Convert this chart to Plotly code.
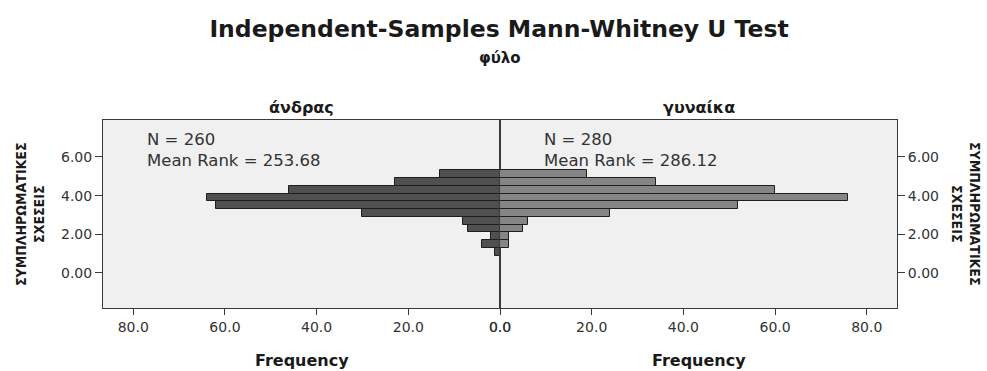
import plotly.graph_objects as go

# ---------------- data ----------------
bin_centers = [1.1, 1.5, 1.9, 2.3, 2.7, 3.1, 3.5, 3.9, 4.3, 4.7, 5.1]
male_freq = [1, 4, 2, 7, 8, 30, 62, 64, 46, 23, 13]      # άνδρας
female_freq = [0, 2, 2, 5, 6, 24, 52, 76, 60, 34, 19]    # γυναίκα
group_labels = ["άνδρας", "γυναίκα"]
group_n = [260, 280]
mean_ranks = [253.68, 286.12]
x_tickvals = [0, 20, 40, 60, 80]
x_ticktext = ["0.0", "20.0", "40.0", "60.0", "80.0"]
y_tickvals = [0, 2, 4, 6]
y_ticktext = ["0.00", "2.00", "4.00", "6.00"]
y_title = "ΣΥΜΠΛΗΡΩΜΑΤΙΚΕΣ<br>ΣΧΕΣΕΙΣ"

FONT = "DejaVu Sans, Liberation Sans, Arial, sans-serif"
NARROW = "Liberation Sans Narrow, DejaVu Sans Condensed, Arial Narrow, sans-serif"
LINE = "#3a3a3a"

fig = go.Figure()
fig.add_trace(go.Bar(
    y=bin_centers, x=male_freq, orientation="h", width=0.4,
    xaxis="x", yaxis="y",
    marker=dict(color="#505050", line=dict(color="#1e1e1e", width=1)),
    showlegend=False, hoverinfo="x+y"))
fig.add_trace(go.Bar(
    y=bin_centers, x=female_freq, orientation="h", width=0.4,
    xaxis="x2", yaxis="y2",
    marker=dict(color="#858585", line=dict(color="#1e1e1e", width=1)),
    showlegend=False, hoverinfo="x+y"))

xcommon = dict(tickvals=x_tickvals, ticktext=x_ticktext, ticks="outside",
               ticklen=6, tickcolor=LINE, showline=True, linecolor=LINE,
               linewidth=1, mirror=True, showgrid=False, zeroline=False,
               tickfont=dict(family=FONT, size=14, color="#333333"))
ycommon = dict(range=[-1.81, 7.91], tickvals=y_tickvals, ticktext=y_ticktext,
               ticks="outside", ticklen=7, tickcolor=LINE, showline=True,
               linecolor=LINE, linewidth=1, mirror=True, showgrid=False,
               zeroline=False,
               tickfont=dict(family=FONT, size=14, color="#333333"))

fig.update_layout(
    width=987, height=371,
    margin=dict(l=103, r=90, t=120, b=63),
    paper_bgcolor="white", plot_bgcolor="#f0f0f0",
    bargap=0,
    xaxis=dict(domain=[0, 0.5], range=[86.6, 0], anchor="y", **xcommon),
    xaxis2=dict(domain=[0.5, 1], range=[0, 86.6], anchor="y2", **xcommon),
    yaxis=dict(anchor="x", side="left", **ycommon),
    yaxis2=dict(anchor="x2", side="right", matches="y", **ycommon),
    title=dict(text="<b>Independent-Samples Mann-Whitney U Test</b>",
               x=0.5056, xref="container", y=1 - 29 / 371, yref="container",
               xanchor="center", yanchor="middle",
               font=dict(family=FONT, size=23.5, color="#1a1a1a")),
)

ann = []
ann.append(dict(text="<b>φύλο</b>", x=0.5, y=1 + 62 / 188, xref="paper",
                yref="paper", showarrow=False, xanchor="center",
                yanchor="middle", font=dict(family=FONT, size=15, color="#1a1a1a")))
for i, (lab, xc) in enumerate(zip(group_labels, [0.25, 0.75])):
    ann.append(dict(text="<b>" + lab + "</b>", x=xc, y=1 + 13 / 188,
                    xref="paper", yref="paper", showarrow=False,
                    xanchor="center", yanchor="middle",
                    font=dict(family=FONT, size=16, color="#1a1a1a")))
    ann.append(dict(text="<b>Frequency</b>", x=xc, y=-(360 - 308) / 188,
                    xref="paper", yref="paper", showarrow=False,
                    xanchor="center", yanchor="middle",
                    font=dict(family=FONT, size=16, color="#1a1a1a")))
for n, mr, xp in zip(group_n, mean_ranks, [(145 - 103) / 794, (542 - 103) / 794]):
    ann.append(dict(text=f"N = {n}<br>Mean Rank = {mr:.2f}", x=xp,
                    y=1 - 30 / 188, xref="paper", yref="paper",
                    showarrow=False, xanchor="left", yanchor="middle",
                    align="left",
                    font=dict(family=FONT, size=16.5, color="#333333")))
ann.append(dict(text="<b>" + y_title + "</b>", x=(30 - 103) / 794, y=0.5,
                xref="paper", yref="paper", showarrow=False, textangle=-90,
                xanchor="center", yanchor="middle", align="center",
                font=dict(family=NARROW, size=14, color="#1a1a1a")))
ann.append(dict(text="<b>" + y_title + "</b>", x=(966 - 103) / 794, y=0.5,
                xref="paper", yref="paper", showarrow=False, textangle=90,
                xanchor="center", yanchor="middle", align="center",
                font=dict(family=NARROW, size=14, color="#1a1a1a")))
fig.update_layout(annotations=ann)

fig.write_html("out.html")
